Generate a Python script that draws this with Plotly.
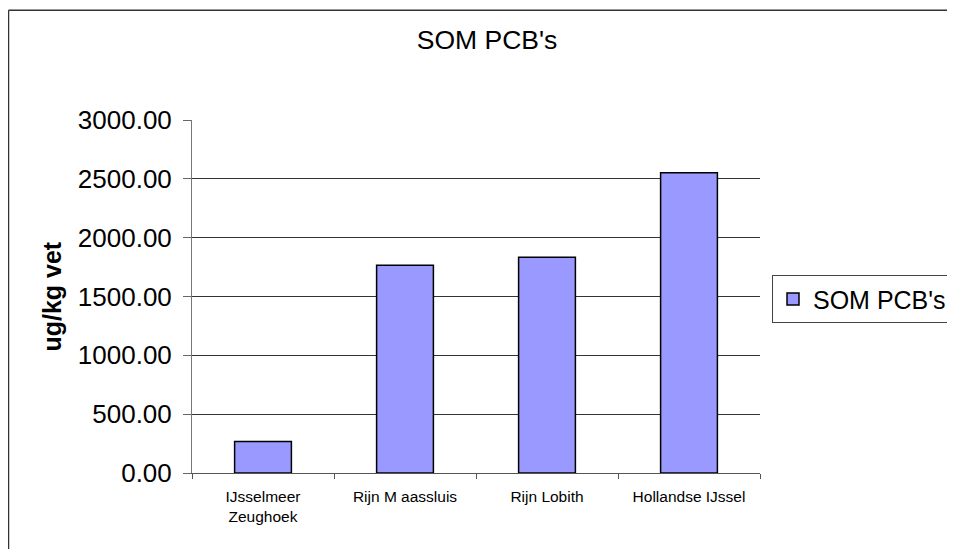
import plotly.graph_objects as go

categories = ["IJsselmeer<br>Zeughoek", "Rijn M aassluis", "Rijn Lobith", "Hollandse IJssel"]
values = [268, 1766, 1834, 2551]
series_name = "SOM PCB's"
y_ticks = [0, 500, 1000, 1500, 2000, 2500, 3000]

FONT = "Arial, Liberation Sans, sans-serif"

# the page body adds an 8px offset; positions below are given in page pixels
OX, OY = 8, 8
W, H = 947, 541
L, T = 184, 111.5
R = W - 752
B = H - 465.3
pw = W - L - R
ph = H - T - B

def px(x):
    return (x - OX - L) / pw

def py(y):
    return (H - B - (y - OY)) / ph

fig = go.Figure()
fig.add_trace(go.Bar(
    x=categories, y=values, name=series_name,
    marker=dict(color="#9999FF", line=dict(color="black", width=1.5)),
    width=0.4, showlegend=True,
))

fig.update_layout(
    width=W, height=H,
    margin=dict(l=L, r=R, t=T, b=B, autoexpand=False),
    paper_bgcolor="white", plot_bgcolor="white",
    font=dict(family=FONT, color="black"),
    title=dict(text="SOM PCB's", x=(487 - OX) / W, xanchor="center", xref="container",
               y=1 - (40 - OY) / H, yanchor="middle", yref="container",
               font=dict(size=26.5, family=FONT, color="black")),
    showlegend=True,
    legend=dict(x=px(772), xanchor="left", y=py(275), yanchor="top",
                bordercolor="#444", borderwidth=1, bgcolor="white",
                font=dict(size=25, family=FONT, color="black")),
)

fig.update_xaxes(
    type="category", showline=True, linecolor="#555", linewidth=1,
    ticks="outside", tickson="boundaries", ticklen=5, tickcolor="#555",
    tickfont=dict(size=15.5, family=FONT, color="black"),
    showgrid=False, ticklabelstandoff=9,
)
fig.update_yaxes(
    range=[0, 3000], tickvals=y_ticks, tickformat=".2f",
    showline=True, linecolor="#777", linewidth=1,
    ticks="outside", ticklen=8, tickcolor="#666",
    tickfont=dict(size=26, family=FONT, color="black"),
    ticklabelstandoff=6,
    showgrid=True, gridcolor="#333", gridwidth=1,
    zeroline=False,
)

fig.add_annotation(
    text="<b>ug/kg vet</b>", textangle=-90, showarrow=False,
    xref="paper", yref="paper", x=px(52), y=py(296.5),
    xanchor="center", yanchor="middle",
    font=dict(size=25, family=FONT, color="black"),
)

# outer chart frame (left and top edges visible)
fig.add_shape(type="line", xref="paper", yref="paper",
              x0=px(8.5), x1=px(8.5), y0=py(9.5), y1=py(580),
              line=dict(color="#333", width=1.5))
fig.add_shape(type="line", xref="paper", yref="paper",
              x0=px(8.5), x1=px(990), y0=py(9.5), y1=py(9.5),
              line=dict(color="#333", width=1.5))

fig.write_html("out.html")
